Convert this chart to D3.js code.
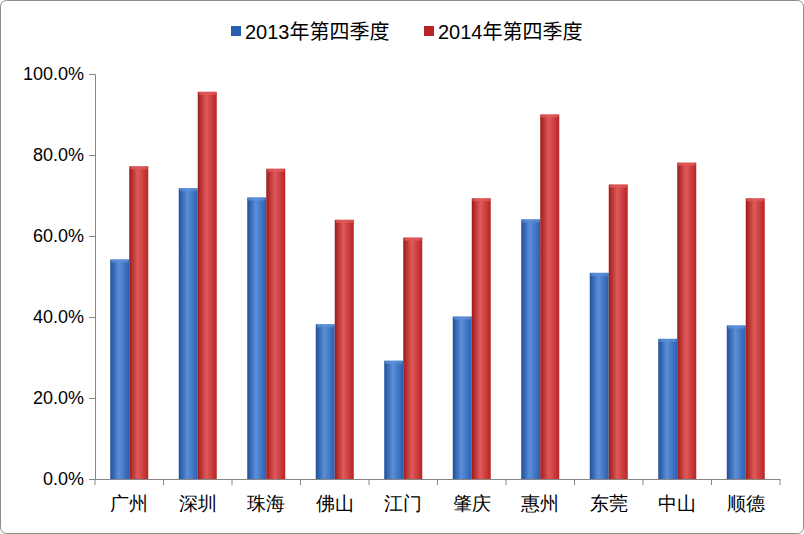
<!DOCTYPE html>
<html><head><meta charset="utf-8">
<script src="https://cdn.jsdelivr.net/npm/d3@7"></script>
<style>body{margin:0;background:#fff}svg{font-family:"Noto Sans CJK SC","Liberation Sans",sans-serif}</style>
</head><body><svg id="c" width="804" height="534"></svg>
<script>
const categories=["广州","深圳","珠海","佛山","江门","肇庆","惠州","东莞","中山","顺德"];
const seriesNames=["2013年第四季度","2014年第四季度"];
const values2013=[54.2,71.8,69.5,38.2,29.2,40.1,64.1,50.9,34.6,37.9];
const values2014=[77.2,95.6,76.6,64.0,59.6,69.3,90.0,72.7,78.1,69.3];
const yTicks=[0,20,40,60,80,100];
const colors=[["#1f4f9a","#5b8fd8","#2a5fb0"],["#9e1a1a","#e05a5a","#b82424"]];

const svg=d3.select("#c");
svg.append("rect").attr("x",0.5).attr("y",0.5).attr("width",803).attr("height",533).attr("rx",6).attr("fill","#fff").attr("stroke","#8c8c8c");
const defs=svg.append("defs");
colors.forEach((c,i)=>{const g=defs.append("linearGradient").attr("id","g"+i);
 g.append("stop").attr("offset","0%").attr("stop-color",c[0]);
 g.append("stop").attr("offset","45%").attr("stop-color",c[1]);
 g.append("stop").attr("offset","100%").attr("stop-color",c[2]);});
const L=95,R=780,T=74,B=479;
const x=d3.scaleBand().domain(categories).range([L,R]);
const y=d3.scaleLinear().domain([0,100]).range([B,T]);
const bw=19;
[values2013,values2014].forEach((vals,s)=>{
 svg.append("g").selectAll("rect").data(vals).join("rect")
  .attr("x",(d,i)=>x(categories[i])+x.bandwidth()/2-bw+s*bw).attr("width",bw)
  .attr("y",d=>y(d)).attr("height",d=>B-y(d)).attr("fill","url(#g"+s+")");
 svg.append("g").selectAll("rect").data(vals).join("rect")
  .attr("x",(d,i)=>x(categories[i])+x.bandwidth()/2-bw+s*bw+1).attr("width",bw-2)
  .attr("y",d=>y(d)).attr("height",3).attr("fill",colors[s][1]).attr("opacity",0.8);
});
const ya=svg.append("g").attr("transform",`translate(${L},0)`).call(d3.axisLeft(y).tickValues(yTicks).tickFormat(d=>d.toFixed(1)+"%").tickSize(6));
ya.selectAll("text").attr("font-size",18).attr("fill","#000").attr("font-family","Liberation Sans,sans-serif").attr("dx",-2);
ya.select(".domain").attr("stroke","#868686");ya.selectAll("line").attr("stroke","#868686");
const xa=svg.append("g").attr("transform",`translate(0,${B})`).call(d3.axisBottom(x).tickSize(0).tickPadding(18));
xa.select(".domain").attr("stroke","#868686");
xa.selectAll("text").attr("font-size",19).attr("fill","#000");
xa.selectAll(".sep").data(d3.range(categories.length+1)).join("line").attr("class","sep")
 .attr("x1",i=>L+i*x.step()).attr("x2",i=>L+i*x.step()).attr("y1",0).attr("y2",6).attr("stroke","#868686");
const lg=svg.append("g");
[[231,"#2a5fb0"],[424,"#b82424"]].forEach(([lx,c],i)=>{
 lg.append("rect").attr("x",lx).attr("y",26).attr("width",10).attr("height",10).attr("fill",c);
 lg.append("text").attr("x",lx+14).attr("y",39).attr("font-size",20).attr("font-family","Liberation Sans,Noto Sans CJK SC,sans-serif").text(seriesNames[i]);
});
</script></body></html>
